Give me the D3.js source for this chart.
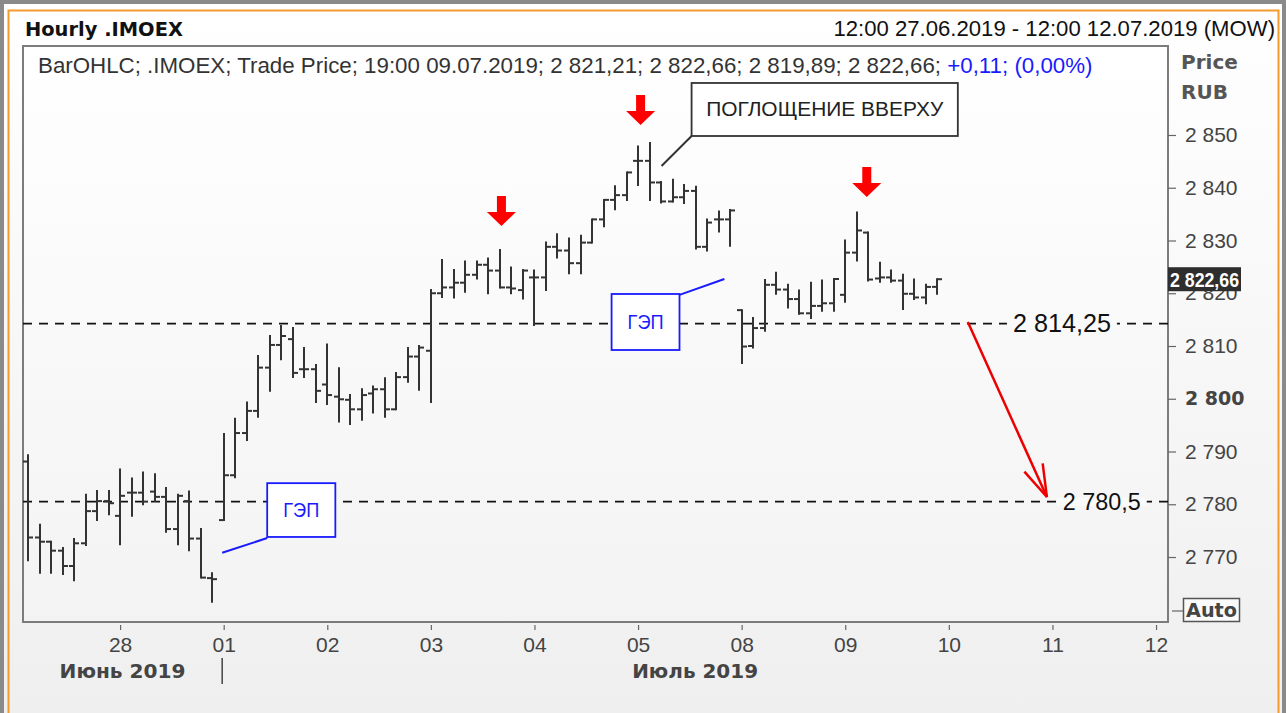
<!DOCTYPE html>
<html><head><meta charset="utf-8">
<script src="https://cdn.jsdelivr.net/npm/d3@7"></script>
<style>html,body{margin:0;padding:0;background:#fff;overflow:hidden}</style>
</head><body><svg id="c" width="1286" height="713"></svg>
<script>
// ---------- data ----------
const sessions = ["27.06.2019","28.06.2019","01.07.2019","02.07.2019","03.07.2019","04.07.2019","05.07.2019","08.07.2019","09.07.2019"];
const hours = ["11:00","12:00","13:00","14:00","15:00","16:00","17:00","18:00","19:00"];
const firstHour = "12:00";
const opens = [2788.1,2773.7,2772.9,2771.2,2768.3,2772.6,2778.7,2780.6,
 2777.8,2782.2,2782.2,2782.4,2781.4,2775.3,2780.6,2773.5,2766.0,
 2777.0,2785.5,2793.5,2797.7,2805.9,2810.2,2811.3,2805.6,2805.6,
 2802.7,2800.4,2799.8,2798.0,2801.0,2801.8,2798.0,2804.1,2808.0,
 2809.1,2820.0,2821.1,2822.0,2823.5,2825.4,2824.3,2821.1,2820.6,
 2823.0,2823.0,2828.8,2828.1,2825.7,2829.6,2834.0,2837.7,2838.6,
 2845.1,2845.1,2841.0,2837.4,2838.2,2839.4,2828.8,2834.0,2834.0,
 2816.8,2810.0,2813.4,2821.6,2820.7,2818.9,2816.2,2817.6,2818.1,
 2819.7,2827.7,2831.5,2822.8,2823.0,2822.4,2819.9,2819.2,2821.21];
const highs = [2789.3,2776.1,2772.9,2771.7,2773.4,2781.8,2782.5,2782.5,
 2786.6,2784.9,2786.0,2785.7,2783.1,2781.8,2782.4,2775.3,2766.9,
 2793.3,2796.2,2799.3,2808.1,2811.9,2813.8,2813.4,2809.6,2806.4,
 2810.3,2805.8,2800.7,2801.8,2802.3,2803.9,2804.9,2809.6,2810.0,
 2820.6,2826.3,2824.4,2826.0,2826.0,2826.6,2828.2,2824.9,2824.4,
 2824.3,2829.6,2831.2,2830.4,2830.9,2834.0,2837.7,2840.3,2842.9,
 2847.8,2848.5,2841.1,2841.5,2840.5,2840.2,2834.0,2835.5,2835.8,
 2816.8,2815.3,2822.5,2823.9,2821.6,2820.5,2822.0,2822.4,2822.7,
 2830.0,2835.3,2831.5,2825.8,2824.3,2823.5,2822.6,2821.6,2822.66];
const lows = [2769.4,2767.0,2767.0,2766.8,2765.6,2772.3,2777.0,2778.1,
 2772.4,2777.8,2780.0,2780.6,2774.8,2772.4,2771.3,2766.1,2761.5,
 2777.0,2785.1,2792.2,2796.6,2801.5,2807.5,2804.1,2804.1,2799.4,
 2799.0,2795.7,2795.2,2796.0,2797.4,2796.6,2798.0,2803.2,2801.7,
 2799.4,2819.3,2819.2,2820.3,2822.8,2820.0,2821.1,2820.0,2819.0,
 2814.0,2820.6,2826.8,2823.8,2823.8,2829.6,2832.7,2835.9,2837.7,
 2840.5,2837.7,2837.2,2837.4,2837.1,2828.5,2828.1,2831.7,2829.0,
 2806.8,2809.7,2812.9,2819.9,2817.3,2816.1,2815.3,2816.7,2816.7,
 2818.4,2826.2,2822.4,2822.2,2822.2,2817.0,2818.9,2818.1,2819.89];
const closes = [2773.7,2772.9,2771.2,2768.3,2772.6,2778.7,2780.6,2780.2,
 2781.6,2782.2,2780.5,2781.4,2775.3,2781.6,2773.5,2766.1,2765.8,
 2785.5,2793.5,2797.7,2805.9,2810.2,2811.9,2804.9,2805.6,2801.5,
 2800.7,2799.9,2798.0,2800.7,2801.8,2798.0,2804.1,2808.0,2809.7,
 2820.0,2821.1,2822.0,2823.5,2825.4,2824.3,2821.1,2820.9,2824.3,
 2823.0,2828.8,2828.1,2825.7,2829.6,2834.0,2837.7,2838.6,2842.9,
 2845.1,2841.0,2837.4,2838.2,2839.4,2828.8,2833.4,2834.0,2835.7,
 2809.9,2813.4,2821.6,2820.7,2818.9,2816.2,2817.6,2818.1,2822.7,
 2827.7,2831.9,2822.6,2823.0,2822.4,2819.9,2819.2,2821.2,2822.66];
const dayTicks = ["28","01","02","03","04","05","08","09","10","11","12"];
const monthLabels = ["Июнь 2019","Июль 2019"];
const yTicks = [2770,2780,2790,2800,2810,2820,2830,2840,2850];
const levels = [2814.25, 2780.5];
const levelLabels = ["2 814,25","2 780,5"];
const title = "Hourly .IMOEX";
const rangeText = "12:00 27.06.2019 - 12:00 12.07.2019 (MOW)";
const legendMain = "BarOHLC; .IMOEX; Trade Price; 19:00 09.07.2019; 2 821,21; 2 822,66; 2 819,89; 2 822,66; ";
const legendChange = "+0,11; (0,00%)";
const lastPrice = "2 822,66";
// annotations (slot, price)
const downArrows = [[33.13,2832.75],[45.22,2851.9],[64.87,2838.25]];
const gapBoxes = [
  {x0:42.7,x1:48.6,p0:2809.24,p1:2819.86, from:[48.6,2819.7], to:[52.5,2822.7]},
  {x0:12.78,x1:18.7,p0:2773.8,p1:2784.0, from:[12.78,2773.6], to:[8.87,2770.8]}];
const bigBox = {x0:49.65,x1:72.78,p0:2849.81,p1:2859.86, from:[49.65,2849.81], to:[47.04,2844.12], text:"ПОГЛОЩЕНИЕ ВВЕРХУ"};
const targetArrow = {from:[73.65,2814.55], to:[80.52,2781.37]};
const levelLabelSlots = [77.57, 81.9];

// ---------- build ----------
const bars = [];
let k = 0;
sessions.forEach((s,i)=>{
  hours.forEach((h,j)=>{
    if (i===0 && j < hours.indexOf(firstHour)) return;
    bars.push({slot:(i-1)*hours.length + j, o:opens[k], h:highs[k], l:lows[k], c:closes[k]});
    k++;
  });
});

const svg = d3.select('#c');
const L=23, R=1168, T=46, B=622;
const x = d3.scaleLinear().domain([-8.435, 91.04]).range([L,R]);
const y = d3.scaleLinear().domain([2757.68, 2866.87]).range([B,T]);
const loc = d3.formatLocale({decimal:",", thousands:" ", grouping:[3], currency:["",""]});
const fmt = loc.format(",.0f");

const defs = svg.append('defs');
const bg = defs.append('linearGradient').attr('id','bg').attr('x1',0).attr('y1',0).attr('x2',0).attr('y2',1);
bg.append('stop').attr('offset','0%').attr('stop-color','#ffffff');
bg.append('stop').attr('offset','100%').attr('stop-color','#efefef');
const pg = defs.append('linearGradient').attr('id','pg').attr('x1',0).attr('y1',0).attr('x2',0).attr('y2',1);
pg.append('stop').attr('offset','0%').attr('stop-color','#ffffff');
pg.append('stop').attr('offset','100%').attr('stop-color','#f3f3f3');

svg.append('rect').attr('width',1286).attr('height',713).attr('fill','url(#bg)');
svg.append('rect').attr('x',2).attr('y',2).attr('width',1282).attr('height',720).attr('fill','none').attr('stroke','#8a8a8a').attr('stroke-width',4);
svg.append('rect').attr('x',8.5).attr('y',10.5).attr('width',1270).attr('height',720).attr('fill','none').attr('stroke','#f39a2c').attr('stroke-width',2);

function fit(sel, w){ const l = sel.node().getComputedTextLength(); const fs = parseFloat(sel.attr('font-size')); sel.attr('font-size', fs*w/l); }
function squeeze(sel, w){ sel.attr('textLength', w).attr('lengthAdjust','spacingAndGlyphs'); }

// header
svg.append('text').attr('x',25).attr('y',36).attr('font-family','DejaVu Sans').attr('font-weight','bold').attr('font-size',20).attr('fill','#111').text(title).call(s=>fit(s,158));
svg.append('text').attr('x',1275).attr('y',36).attr('text-anchor','end').attr('font-family','Liberation Sans').attr('font-size',21).attr('fill','#111').text(rangeText).call(s=>fit(s,442));

// plot area
svg.append('rect').attr('x',L).attr('y',T).attr('width',R-L).attr('height',B-T).attr('fill','url(#pg)').attr('stroke','#7c7c7c').attr('stroke-width',2);

const leg = svg.append('text').attr('x',38).attr('y',73).attr('font-family','Liberation Sans').attr('font-size',21).attr('fill','#333');
leg.append('tspan').text(legendMain);
leg.append('tspan').attr('fill','#1a1aff').text(legendChange);
fit(leg, 1055);

svg.append('text').attr('x',1181).attr('y',69).attr('font-family','DejaVu Sans').attr('font-weight','bold').attr('font-size',20).attr('fill','#555').text('Price');
svg.append('text').attr('x',1181).attr('y',99).attr('font-family','DejaVu Sans').attr('font-weight','bold').attr('font-size',20).attr('fill','#555').text('RUB');

// y axis
const yAx = svg.append('g').attr('transform',`translate(${R},0)`)
  .call(d3.axisRight(y).tickValues(yTicks).tickSize(8).tickPadding(9).tickFormat(fmt));
yAx.select('.domain').remove();
yAx.selectAll('line').attr('stroke','#666').attr('stroke-width',1.2);
yAx.selectAll('text').attr('font-family','Liberation Sans').attr('font-size',21).attr('fill','#444')
  .filter(d=>d===2800).attr('font-family','DejaVu Sans').attr('font-weight','bold').attr('font-size',19);

// x axis
const xAx = svg.append('g').attr('transform',`translate(0,${B+3})`)
  .call(d3.axisBottom(x).tickValues(dayTicks.map((d,i)=>i*hours.length)).tickSize(5).tickPadding(7).tickFormat((d,i)=>dayTicks[i]));
xAx.select('.domain').remove();
xAx.selectAll('line').attr('stroke','#666').attr('stroke-width',1.2);
xAx.selectAll('text').attr('font-family','Liberation Sans').attr('font-size',21).attr('fill','#444');

// month labels
const monthSplit = x(hours.length) - 1.5;
svg.append('text').attr('x',(L+monthSplit)/2).attr('y',678).attr('text-anchor','middle').attr('font-family','DejaVu Sans').attr('font-weight','bold').attr('font-size',20).attr('fill','#444').text(monthLabels[0]).call(s=>fit(s,126));
svg.append('text').attr('x',(monthSplit+R)/2).attr('y',678).attr('text-anchor','middle').attr('font-family','DejaVu Sans').attr('font-weight','bold').attr('font-size',20).attr('fill','#444').text(monthLabels[1]).call(s=>fit(s,126));
svg.append('line').attr('x1',monthSplit).attr('x2',monthSplit).attr('y1',658).attr('y2',684).attr('stroke','#444').attr('stroke-width',1.5);

// level lines
const lv = svg.append('g');
levels.forEach((v,i)=>{
  lv.append('line').attr('x1',L).attr('x2',R).attr('y1',y(v)).attr('y2',y(v)).attr('stroke','#111').attr('stroke-width',1.8).attr('stroke-dasharray','9,7');
});

// bars
const bg2 = svg.append('g').attr('stroke','#333').attr('stroke-width',2);
bg2.selectAll('g').data(bars).join('g').each(function(d){
  const g = d3.select(this), cx = Math.round(x(d.slot));
  g.append('line').attr('x1',cx).attr('x2',cx).attr('y1',y(d.h)-1).attr('y2',y(d.l)+1);
  g.append('line').attr('x1',cx-5).attr('x2',cx).attr('y1',y(d.o)).attr('y2',y(d.o));
  g.append('line').attr('x1',cx).attr('x2',cx+5).attr('y1',y(d.c)).attr('y2',y(d.c));
});

// level labels with background
levels.forEach((v,i)=>{
  const g = svg.append('g');
  const r = g.append('rect').attr('fill','#fafafa');
  const t = g.append('text').attr('x',x(levelLabelSlots[i])).attr('y',y(v)+8).attr('font-family','Liberation Sans').attr('font-size',23).attr('fill','#111').text(levelLabels[i]);
  fit(t, i===0?98:78);
  const bb = t.node().getBBox();
  r.attr('x',bb.x-6).attr('y',y(v)-4).attr('width',bb.width+12).attr('height',8);
});

// annotations: gap boxes
gapBoxes.forEach(b=>{
  svg.append('line').attr('x1',x(b.from[0])).attr('y1',y(b.from[1])).attr('x2',x(b.to[0])).attr('y2',y(b.to[1])).attr('stroke','#1a1aff').attr('stroke-width',2);
  svg.append('rect').attr('x',x(b.x0)).attr('y',y(b.p1)).attr('width',x(b.x1)-x(b.x0)).attr('height',y(b.p0)-y(b.p1)).attr('fill','#fff').attr('stroke','#1a1aff').attr('stroke-width',1.8);
  svg.append('text').attr('x',(x(b.x0)+x(b.x1))/2).attr('y',(y(b.p0)+y(b.p1))/2+7).attr('text-anchor','middle').attr('font-family','Liberation Sans').attr('font-size',20).attr('fill','#1a1aff').text('ГЭП').call(s=>squeeze(s,36));
});
// big box
svg.append('line').attr('x1',x(bigBox.from[0])).attr('y1',y(bigBox.from[1])).attr('x2',x(bigBox.to[0])).attr('y2',y(bigBox.to[1])).attr('stroke','#333').attr('stroke-width',2);
svg.append('rect').attr('x',x(bigBox.x0)).attr('y',y(bigBox.p1)).attr('width',x(bigBox.x1)-x(bigBox.x0)).attr('height',y(bigBox.p0)-y(bigBox.p1)).attr('fill','#fff').attr('stroke','#333').attr('stroke-width',1.8);
svg.append('text').attr('x',(x(bigBox.x0)+x(bigBox.x1))/2).attr('y',(y(bigBox.p0)+y(bigBox.p1))/2+7).attr('text-anchor','middle').attr('font-family','Liberation Sans').attr('font-size',20).attr('fill','#222').text(bigBox.text).call(s=>squeeze(s,237));

// down arrows
downArrows.forEach(([s,p])=>{
  const tx = x(s), ty = y(p);
  const pts = [[tx-4.5,ty-30],[tx+4.5,ty-30],[tx+4.5,ty-14],[tx+14.5,ty-14],[tx,ty],[tx-14.5,ty-14],[tx-4.5,ty-14]];
  svg.append('path').attr('d', d3.line()(pts)+'Z').attr('fill','#ff0000');
});

// target arrow
{
  const x1 = x(targetArrow.from[0]), y1 = y(targetArrow.from[1]), x2 = x(targetArrow.to[0]), y2 = y(targetArrow.to[1]);
  svg.append('line').attr('x1',x1).attr('y1',y1).attr('x2',x2).attr('y2',y2).attr('stroke','#ee0000').attr('stroke-width',2.5);
  const ang = Math.atan2(y2-y1, x2-x1), len = 34, sp = 0.3;
  [ang+Math.PI-sp, ang+Math.PI+sp].forEach(a=>{
    svg.append('line').attr('x1',x2).attr('y1',y2).attr('x2',x2+len*Math.cos(a)).attr('y2',y2+len*Math.sin(a)).attr('stroke','#ee0000').attr('stroke-width',2.5);
  });
}

// last price label
{
  const py = y(closes[closes.length-1]);
  svg.append('rect').attr('x',R).attr('y',py-12).attr('width',73).attr('height',24).attr('fill','#2e2e2e');
  svg.append('text').attr('x',R+2).attr('y',py+7.5).attr('font-family','Liberation Sans').attr('font-weight','bold').attr('font-size',21).attr('fill','#fff').text(lastPrice).call(s=>squeeze(s,69));
}

// Auto box
svg.append('line').attr('x1',R+4).attr('x2',R+15).attr('y1',611).attr('y2',611).attr('stroke','#666').attr('stroke-width',1.2);
svg.append('rect').attr('x',1183.5).attr('y',598.5).attr('width',56).attr('height',23).attr('fill','#fafafa').attr('stroke','#555').attr('stroke-width',1.5);
svg.append('text').attr('x',1211.5).attr('y',617).attr('text-anchor','middle').attr('font-family','DejaVu Sans').attr('font-weight','bold').attr('font-size',19).attr('fill','#444').text('Auto').call(s=>fit(s,51));
</script></body></html>
